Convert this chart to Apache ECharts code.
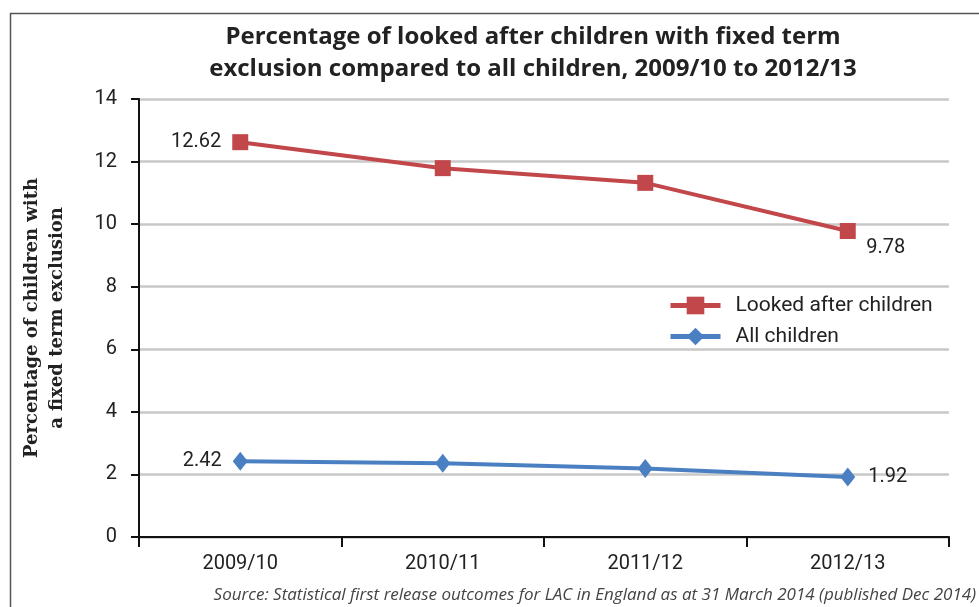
<!DOCTYPE html>
<html>
<head>
<meta charset="utf-8">
<script src="https://cdn.jsdelivr.net/npm/echarts@6/dist/echarts.min.js"></script>
<style>
html,body{margin:0;padding:0;background:#fff;}
#c{width:979px;height:607px;}
</style>
</head>
<body>
<div id="c"></div>
<script>
const categories = ['2009/10', '2010/11', '2011/12', '2012/13'];
const lookedAfter = [12.62, 11.79, 11.32, 9.78];
const allChildren = [2.42, 2.36, 2.19, 1.92];
const yTicks = [0, 2, 4, 6, 8, 10, 12, 14];
const titleText = 'Percentage of looked after children with fixed term\nexclusion compared to all children, 2009/10 to 2012/13';
const yName = 'Percentage of children with\na fixed term exclusion';
const sourceText = 'Source: Statistical first release outcomes for LAC in England as at 31 March 2014 (published Dec 2014)';

const RED = '#c2474a', BLUE = '#4a80c2';
const F = 'Roboto';

function withEndLabels(vals, firstPos, firstDist, lastPos, lastDist, lastOffset) {
  return vals.map((v, i) => {
    if (i === 0) return {value: v, label: {show: true, position: firstPos, distance: firstDist}};
    if (i === vals.length - 1) return {value: v, label: {show: true, position: lastPos, distance: lastDist, offset: lastOffset}};
    return v;
  });
}

const chart = echarts.init(document.getElementById('c'), null, {renderer: 'canvas'});
chart.setOption({
  animation: false,
  title: {
    text: titleText,
    left: 528, top: 16, textAlign: 'center',
    textStyle: {fontFamily: 'Open Sans', fontWeight: 'bold', fontSize: 24, color: '#222', lineHeight: 32}
  },
  graphic: [
    {type: 'line', shape: {x1: 10, y1: 13.5, x2: 979, y2: 13.5}, style: {stroke: '#555', lineWidth: 1.5}},
    {type: 'line', shape: {x1: 10.5, y1: 13, x2: 10.5, y2: 607}, style: {stroke: '#555', lineWidth: 1.5}},
    {type: 'text', right: 3, top: 587, style: {text: sourceText, font: 'italic 17px "Open Sans"', fill: '#444'}}
  ],
  legend: {
    orient: 'vertical', left: 668, top: 295, itemGap: 10, padding: 0,
    itemWidth: 50, itemHeight: 22,
    lineStyle: {width: 5},
    textStyle: {fontFamily: F, fontSize: 21, color: '#222', padding: [0, 0, 0, 10]},
    data: ['Looked after children', 'All children']
  },
  grid: {left: 139, right: 30, top: 99, bottom: 70, containLabel: false, outerBoundsMode: 'none'},
  xAxis: {
    type: 'category', data: categories, boundaryGap: true,
    axisLine: {lineStyle: {color: '#111', width: 2}},
    axisTick: {show: true, length: 10, lineStyle: {color: '#111', width: 2}},
    axisLabel: {fontFamily: F, fontSize: 20, color: '#222', margin: 17}
  },
  yAxis: {
    type: 'value', min: yTicks[0], max: yTicks[yTicks.length - 1], interval: 2,
    name: yName, nameLocation: 'middle', nameGap: 69, nameRotate: 90,
    nameTextStyle: {fontFamily: 'DejaVu Serif', fontWeight: 'bold', fontSize: 18, color: '#222', lineHeight: 25},
    axisLine: {show: true, lineStyle: {color: '#111', width: 2}},
    axisTick: {show: true, length: 8, lineStyle: {color: '#111', width: 2}},
    axisLabel: {fontFamily: F, fontSize: 20, color: '#222', margin: 22},
    splitLine: {show: true, lineStyle: {color: '#c8c8c8', width: 2.5}}
  },
  series: [
    {
      name: 'Looked after children', type: 'line',
      data: withEndLabels(lookedAfter, 'left', 11, 'bottom', 2, [38, -3]),
      symbol: 'rect', symbolSize: 16,
      lineStyle: {color: RED, width: 4}, itemStyle: {color: RED},
      label: {show: false, fontFamily: F, fontSize: 20, color: '#222'}
    },
    {
      name: 'All children', type: 'line',
      data: withEndLabels(allChildren, 'left', 11, 'right', 13, [0, 0]),
      symbol: 'diamond', symbolSize: [15, 19],
      lineStyle: {color: BLUE, width: 4}, itemStyle: {color: BLUE},
      label: {show: false, fontFamily: F, fontSize: 20, color: '#222'}
    }
  ]
});
</script>
</body>
</html>
